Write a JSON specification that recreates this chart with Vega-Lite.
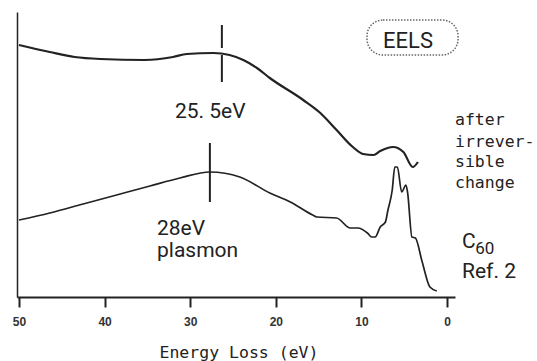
{
  "$schema": "https://vega.github.io/schema/vega-lite/v6.json",
  "width": 438,
  "height": 285,
  "autosize": {"type": "none"},
  "padding": {"left": 17, "top": 12, "right": 82, "bottom": 64},
  "background": "white",
  "config": {"view": {"stroke": null}},
  "datasets": {
    "curves": [
      {"series": "after", "eV": 50.0, "y": 252},
      {"series": "after", "eV": 46.4, "y": 245},
      {"series": "after", "eV": 43.5, "y": 240},
      {"series": "after", "eV": 40.5, "y": 238},
      {"series": "after", "eV": 35.3, "y": 237},
      {"series": "after", "eV": 32.0, "y": 240},
      {"series": "after", "eV": 30.4, "y": 243},
      {"series": "after", "eV": 27.3, "y": 244},
      {"series": "after", "eV": 25.4, "y": 242},
      {"series": "after", "eV": 23.8, "y": 237},
      {"series": "after", "eV": 22.2, "y": 229},
      {"series": "after", "eV": 20.7, "y": 219},
      {"series": "after", "eV": 16.8, "y": 197},
      {"series": "after", "eV": 14.8, "y": 184},
      {"series": "after", "eV": 12.9, "y": 167},
      {"series": "after", "eV": 11.0, "y": 150},
      {"series": "after", "eV": 9.8, "y": 143},
      {"series": "after", "eV": 8.6, "y": 142},
      {"series": "after", "eV": 7.8, "y": 146},
      {"series": "after", "eV": 6.3, "y": 150},
      {"series": "after", "eV": 5.1, "y": 145},
      {"series": "after", "eV": 4.0, "y": 130},
      {"series": "after", "eV": 3.4, "y": 135},
      {"series": "C60", "eV": 50.0, "y": 77},
      {"series": "C60", "eV": 46.4, "y": 84},
      {"series": "C60", "eV": 42.5, "y": 93},
      {"series": "C60", "eV": 38.6, "y": 102},
      {"series": "C60", "eV": 34.7, "y": 111},
      {"series": "C60", "eV": 31.2, "y": 119},
      {"series": "C60", "eV": 27.7, "y": 125},
      {"series": "C60", "eV": 24.2, "y": 120},
      {"series": "C60", "eV": 20.7, "y": 104},
      {"series": "C60", "eV": 18.3, "y": 95},
      {"series": "C60", "eV": 15.7, "y": 82},
      {"series": "C60", "eV": 15.2, "y": 80},
      {"series": "C60", "eV": 12.9, "y": 79},
      {"series": "C60", "eV": 11.3, "y": 69},
      {"series": "C60", "eV": 10.4, "y": 69},
      {"series": "C60", "eV": 9.3, "y": 64},
      {"series": "C60", "eV": 8.8, "y": 60},
      {"series": "C60", "eV": 8.4, "y": 60},
      {"series": "C60", "eV": 7.8, "y": 70},
      {"series": "C60", "eV": 7.2, "y": 75},
      {"series": "C60", "eV": 6.9, "y": 87},
      {"series": "C60", "eV": 6.4, "y": 107},
      {"series": "C60", "eV": 6.1, "y": 130},
      {"series": "C60", "eV": 5.8, "y": 130},
      {"series": "C60", "eV": 5.3, "y": 105},
      {"series": "C60", "eV": 4.8, "y": 112},
      {"series": "C60", "eV": 4.6, "y": 104},
      {"series": "C60", "eV": 4.1, "y": 60},
      {"series": "C60", "eV": 3.7, "y": 59},
      {"series": "C60", "eV": 2.9, "y": 35},
      {"series": "C60", "eV": 2.0, "y": 10},
      {"series": "C60", "eV": 1.2, "y": 6}
    ],
    "markers": [
      {"eV": 26.3, "y1": 272, "y2": 249},
      {"eV": 26.3, "y1": 242, "y2": 215},
      {"eV": 27.7, "y1": 154, "y2": 95}
    ],
    "box": [{"x1": 9.35, "x2": -1.29, "y1": 277, "y2": 242}],
    "bigText": [
      {"label": "25. 5eV", "eV": 31.78, "y": 179},
      {"label": "28eV", "eV": 33.88, "y": 62},
      {"label": "plasmon", "eV": 33.88, "y": 40},
      {"label": "C", "eV": -1.75, "y": 49},
      {"label": "Ref. 2", "eV": -1.75, "y": 19}
    ],
    "eelsText": [{"label": "EELS", "eV": 4.56, "y": 249}],
    "subText": [{"label": "60", "eV": -3.3, "y": 43}],
    "monoText": [
      {"label": "after", "eV": -0.93, "y": 172},
      {"label": "irrever-", "eV": -0.93, "y": 150},
      {"label": "sible", "eV": -0.93, "y": 130},
      {"label": "change", "eV": -0.93, "y": 109}
    ]
  },
  "layer": [
    {
      "data": {"name": "curves"},
      "transform": [{"filter": "datum.series === 'after'"}],
      "mark": {"type": "line", "color": "#222", "strokeWidth": 2.2, "interpolate": "monotone"},
      "encoding": {
        "x": {
          "field": "eV", "type": "quantitative",
          "scale": {"domain": [50.23, -0.93], "nice": false, "zero": false},
          "axis": {
            "values": [50, 40, 30, 20, 10, 0],
            "grid": false,
            "domainColor": "#222", "domainWidth": 2,
            "tickColor": "#222", "tickWidth": 2, "tickSize": 10,
            "labelFont": "Liberation Sans", "labelFontWeight": "bold", "labelFontSize": 12,
            "labelColor": "#333", "labelPadding": 9, "labelFlush": false,
            "title": "Energy Loss (eV)",
            "titleFont": "DejaVu Sans Mono", "titleFontSize": 16.5, "titleFontWeight": "normal",
            "titleColor": "#222", "titleAlign": "left", "titleBaseline": "alphabetic",
            "titleX": 142, "titleY": 60
          }
        },
        "y": {
          "field": "y", "type": "quantitative",
          "scale": {"domain": [0, 285], "nice": false},
          "axis": {"grid": false, "ticks": false, "labels": false, "title": null, "domainColor": "#222", "domainWidth": 1.5}
        }
      }
    },
    {
      "data": {"name": "curves"},
      "transform": [{"filter": "datum.series === 'C60'"}],
      "mark": {"type": "line", "color": "#222", "strokeWidth": 1.7, "interpolate": "monotone"},
      "encoding": {
        "x": {"field": "eV", "type": "quantitative"},
        "y": {"field": "y", "type": "quantitative"}
      }
    },
    {
      "data": {"name": "markers"},
      "mark": {"type": "rule", "color": "#222", "strokeWidth": 2},
      "encoding": {
        "x": {"field": "eV", "type": "quantitative"},
        "y": {"field": "y1", "type": "quantitative"},
        "y2": {"field": "y2"}
      }
    },
    {
      "data": {"name": "box"},
      "mark": {"type": "rect", "fill": null, "fillOpacity": 0, "stroke": "#666", "strokeWidth": 1.5, "strokeDash": [1.5, 1.5], "cornerRadius": 16},
      "encoding": {
        "x": {"field": "x1", "type": "quantitative"},
        "x2": {"field": "x2"},
        "y": {"field": "y1", "type": "quantitative"},
        "y2": {"field": "y2"}
      }
    },
    {
      "data": {"name": "bigText"},
      "mark": {"type": "text", "align": "left", "baseline": "alphabetic", "font": "Roboto", "fontSize": 21, "color": "#222"},
      "encoding": {
        "x": {"field": "eV", "type": "quantitative"},
        "y": {"field": "y", "type": "quantitative"},
        "text": {"field": "label"}
      }
    },
    {
      "data": {"name": "eelsText"},
      "mark": {"type": "text", "align": "center", "baseline": "alphabetic", "font": "Roboto", "fontSize": 22, "color": "#222"},
      "encoding": {
        "x": {"field": "eV", "type": "quantitative"},
        "y": {"field": "y", "type": "quantitative"},
        "text": {"field": "label"}
      }
    },
    {
      "data": {"name": "subText"},
      "mark": {"type": "text", "align": "left", "baseline": "alphabetic", "font": "Roboto", "fontSize": 17, "color": "#222"},
      "encoding": {
        "x": {"field": "eV", "type": "quantitative"},
        "y": {"field": "y", "type": "quantitative"},
        "text": {"field": "label"}
      }
    },
    {
      "data": {"name": "monoText"},
      "mark": {"type": "text", "align": "left", "baseline": "alphabetic", "font": "DejaVu Sans Mono", "fontSize": 16.5, "color": "#222"},
      "encoding": {
        "x": {"field": "eV", "type": "quantitative"},
        "y": {"field": "y", "type": "quantitative"},
        "text": {"field": "label"}
      }
    }
  ]
}
